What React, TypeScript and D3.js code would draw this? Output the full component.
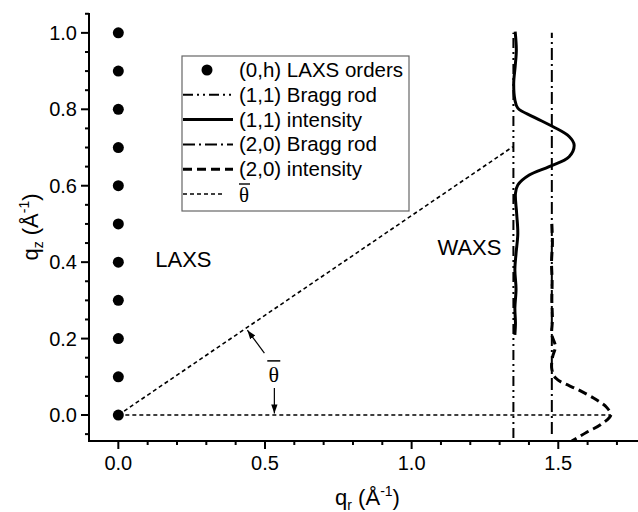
import React from 'react';
import * as d3 from 'd3';

const W = 638;
const H = 512;

// ---- data ----
const laxsQz = [0, 0.1, 0.2, 0.3, 0.4, 0.5, 0.6, 0.7, 0.8, 0.9, 1.0];
const laxsQr = 0;

const rod11Qr = 1.347;
const rod11Qz = [-0.06, 1.0];
const rod20Qr = 1.478;
const rod20Qz = [-0.05, 1.0];

const int11Qr = [1.353, 1.357, 1.353, 1.348, 1.352, 1.362, 1.413, 1.481, 1.537, 1.554, 1.537, 1.469, 1.401, 1.362, 1.354, 1.358, 1.362, 1.356, 1.352, 1.356, 1.352, 1.354, 1.352];
const int11Qz = [1.003, 0.955, 0.912, 0.868, 0.825, 0.803, 0.781, 0.755, 0.729, 0.707, 0.676, 0.65, 0.628, 0.602, 0.58, 0.528, 0.475, 0.423, 0.38, 0.33, 0.28, 0.24, 0.21];

const int20Qr = [1.478, 1.48, 1.477, 1.479, 1.478, 1.48, 1.478, 1.49, 1.48, 1.478, 1.492, 1.571, 1.63, 1.665, 1.679, 1.645, 1.597, 1.549, 1.5];
const int20Qz = [0.5, 0.45, 0.4, 0.35, 0.3, 0.25, 0.21, 0.18, 0.15, 0.12, 0.096, 0.065, 0.04, 0.02, 0.0, -0.025, -0.045, -0.067, -0.09];

const thetaQr = [0, 1.345];
const thetaQz = [0, 0.702];
const baseQr = [0, 1.68];
const baseQz = [0, 0];

const xMajor = [0, 0.5, 1.0, 1.5];
const xLabels = ['0.0', '0.5', '1.0', '1.5'];
const xMinor = [0.1, 0.2, 0.3, 0.4, 0.6, 0.7, 0.8, 0.9, 1.1, 1.2, 1.3, 1.4, 1.6, 1.7];
const yMajor = [0, 0.2, 0.4, 0.6, 0.8, 1.0];
const yLabels = ['0.0', '0.2', '0.4', '0.6', '0.8', '1.0'];
const yMinor = [-0.05, 0.05, 0.1, 0.15, 0.25, 0.3, 0.35, 0.45, 0.5, 0.55, 0.65, 0.7, 0.75, 0.85, 0.9, 0.95, 1.05];

const legendLabels = ['(0,h) LAXS orders', '(1,1) Bragg rod', '(1,1) intensity', '(2,0) Bragg rod', '(2,0) intensity', 'θ'];

// annotations (data coords)
const laxsText = { qr: 0.126, qz: 0.387, text: 'LAXS' };
const waxsText = { qr: 1.088, qz: 0.419, text: 'WAXS' };
const thetaLabel = { qr: 0.53, qz: 0.105 };
const arrow1 = { from: [0.498, 0.162], to: [0.44, 0.222] };
const arrow2 = { from: [0.532, 0.071], to: [0.532, 0.004] };

const SANS = '"Liberation Sans", Arial, sans-serif';
const SERIF = '"Liberation Serif", "Times New Roman", serif';

const styles = {
  rod11: { dash: '10,4,2,4,2,4', w: 2 },
  int11: { dash: 'none', w: 3 },
  rod20: { dash: '12,4,2,4', w: 2 },
  int20: { dash: '9,5', w: 3 },
  theta: { dash: '4,3', w: 1.6 },
};

export default function App() {
  const x = d3.scaleLinear().domain([-0.1, 1.8]).range([89, 89 + 1.9 * 293.3]);
  const y = d3.scaleLinear().domain([-0.068, 1.052]).range([441, 13]);

  const line = d3
    .line<[number, number]>()
    .x((d) => x(d[0]))
    .y((d) => y(d[1]));
  const smooth = d3
    .line<[number, number]>()
    .x((d) => x(d[0]))
    .y((d) => y(d[1]))
    .curve(d3.curveCatmullRom.alpha(0.5));

  const int11: [number, number][] = int11Qr.map((v, i) => [v, int11Qz[i]]);
  const int20: [number, number][] = int20Qr.map((v, i) => [v, int20Qz[i]]);
  const rod11: [number, number][] = rod11Qz.map((z) => [rod11Qr, z]);
  const rod20: [number, number][] = rod20Qz.map((z) => [rod20Qr, z]);
  const theta: [number, number][] = thetaQr.map((v, i) => [v, thetaQz[i]]);
  const base: [number, number][] = baseQr.map((v, i) => [v, baseQz[i]]);

  const x0 = x.range()[0];
  const y0 = y.range()[0];
  const yTop = y.range()[1];
  const xEnd = x.range()[1];

  // legend layout
  const lg = { x: 182, y: 56, w: 227, h: 155, row0: 70, rowH: 24.8, symX0: 183, symX1: 233, textX: 239 };
  const legendStyles = [null, styles.rod11, styles.int11, styles.rod20, styles.int20, styles.theta];

  return (
    <svg width={W} height={H} style={{ position: 'absolute', left: 0, top: 0, background: '#fff' }}>
      <defs>
        <clipPath id="plot">
          <rect x={x0} y={yTop - 2} width={xEnd - x0} height={y0 - yTop + 2} />
        </clipPath>
        <marker id="arr" viewBox="0 0 10 10" refX="10" refY="5" markerWidth="9" markerHeight="9" orient="auto" markerUnits="userSpaceOnUse">
          <path d="M0,1.5 L10,5 L0,8.5 Z" fill="#000" />
        </marker>
      </defs>

      <g clipPath="url(#plot)" fill="none" stroke="#000">
        <path d={line(base) || ''} strokeWidth={styles.theta.w} strokeDasharray={styles.theta.dash} />
        <path d={line(theta) || ''} strokeWidth={styles.theta.w} strokeDasharray={styles.theta.dash} />
        <path d={line(rod11) || ''} strokeWidth={styles.rod11.w} strokeDasharray={styles.rod11.dash} />
        <path d={line(rod20) || ''} strokeWidth={styles.rod20.w} strokeDasharray={styles.rod20.dash} />
        <path d={smooth(int11) || ''} strokeWidth={styles.int11.w} strokeLinejoin="round" />
        <path d={smooth(int20) || ''} strokeWidth={styles.int20.w} strokeDasharray={styles.int20.dash} />
      </g>

      {laxsQz.map((z, i) => (
        <circle key={i} cx={x(laxsQr)} cy={y(z)} r={5.5} fill="#000" />
      ))}

      {/* annotations */}
      <text x={x(laxsText.qr)} y={y(laxsText.qz)} fontFamily={SANS} fontSize={22}>{laxsText.text}</text>
      <text x={x(waxsText.qr)} y={y(waxsText.qz)} fontFamily={SANS} fontSize={22}>{waxsText.text}</text>
      <line x1={x(arrow1.from[0])} y1={y(arrow1.from[1])} x2={x(arrow1.to[0])} y2={y(arrow1.to[1])} stroke="#000" strokeWidth={1.2} markerEnd="url(#arr)" />
      <line x1={x(arrow2.from[0])} y1={y(arrow2.from[1])} x2={x(arrow2.to[0])} y2={y(arrow2.to[1])} stroke="#000" strokeWidth={1.2} markerEnd="url(#arr)" />
      <text x={x(thetaLabel.qr)} y={y(thetaLabel.qz) + 7} textAnchor="middle" fontFamily={SERIF} fontSize={22}>θ</text>
      <line x1={x(thetaLabel.qr) - 6.5} x2={x(thetaLabel.qr) + 6.5} y1={y(thetaLabel.qz) - 14} y2={y(thetaLabel.qz) - 14} stroke="#000" strokeWidth={1.5} />

      {/* axes */}
      <g stroke="#000" strokeWidth={2}>
        <line x1={x0} x2={x0} y1={yTop} y2={y0 + 1} />
        <line x1={x0 - 1} x2={xEnd} y1={y0} y2={y0} />
        {xMajor.map((v) => (
          <line key={'xM' + v} x1={x(v)} x2={x(v)} y1={y0} y2={y0 + 8} />
        ))}
        {xMinor.map((v) => (
          <line key={'xm' + v} x1={x(v)} x2={x(v)} y1={y0} y2={y0 + 4} />
        ))}
        {yMajor.map((v) => (
          <line key={'yM' + v} x1={x0 - 8} x2={x0} y1={y(v)} y2={y(v)} />
        ))}
        {yMinor.map((v) => (
          <line key={'ym' + v} x1={x0 - 4} x2={x0} y1={y(v)} y2={y(v)} />
        ))}
      </g>
      <g fontFamily={SANS} fontSize={20} fill="#000">
        {xMajor.map((v, i) => (
          <text key={'xl' + v} x={x(v)} y={y0 + 29} textAnchor="middle">{xLabels[i]}</text>
        ))}
        {yMajor.map((v, i) => (
          <text key={'yl' + v} x={x0 - 12} y={y(v) + 7} textAnchor="end">{yLabels[i]}</text>
        ))}
      </g>

      {/* axis titles */}
      <text x={(x0 + 646) / 2} y={505} textAnchor="middle" fontFamily={SANS} fontSize={22}>
        q<tspan fontSize={14} dy={5}>r</tspan>
        <tspan dy={-5}> (Å</tspan>
        <tspan fontSize={14} dy={-9}>-1</tspan>
        <tspan dy={9}>)</tspan>
      </text>
      <text transform={`translate(38,${(yTop + y0) / 2}) rotate(-90)`} textAnchor="middle" fontFamily={SANS} fontSize={22}>
        q<tspan fontSize={14} dy={5}>z</tspan>
        <tspan dy={-5}> (Å</tspan>
        <tspan fontSize={14} dy={-9}>-1</tspan>
        <tspan dy={9}>)</tspan>
      </text>

      {/* legend */}
      <rect x={lg.x} y={lg.y} width={lg.w} height={lg.h} fill="#fff" stroke="#666" strokeWidth={1.2} />
      {legendLabels.map((lab, i) => {
        const cy = lg.row0 + i * lg.rowH;
        const st = legendStyles[i];
        return (
          <g key={lab}>
            {st ? (
              <line x1={lg.symX0} x2={i === 5 ? 225 : lg.symX1} y1={cy} y2={cy} stroke="#000" strokeWidth={st.w} strokeDasharray={st.dash} />
            ) : (
              <circle cx={(lg.symX0 + lg.symX1) / 2 - 1} cy={cy} r={5.5} fill="#000" />
            )}
            {i === 5 ? (
              <g>
                <text x={lg.textX} y={cy + 8} fontFamily={SERIF} fontSize={21}>{lab}</text>
                <line x1={lg.textX} x2={lg.textX + 11} y1={cy - 10} y2={cy - 10} stroke="#000" strokeWidth={1.4} />
              </g>
            ) : (
              <text x={lg.textX} y={cy + 7} fontFamily={SANS} fontSize={20.5}>{lab}</text>
            )}
          </g>
        );
      })}
    </svg>
  );
}
